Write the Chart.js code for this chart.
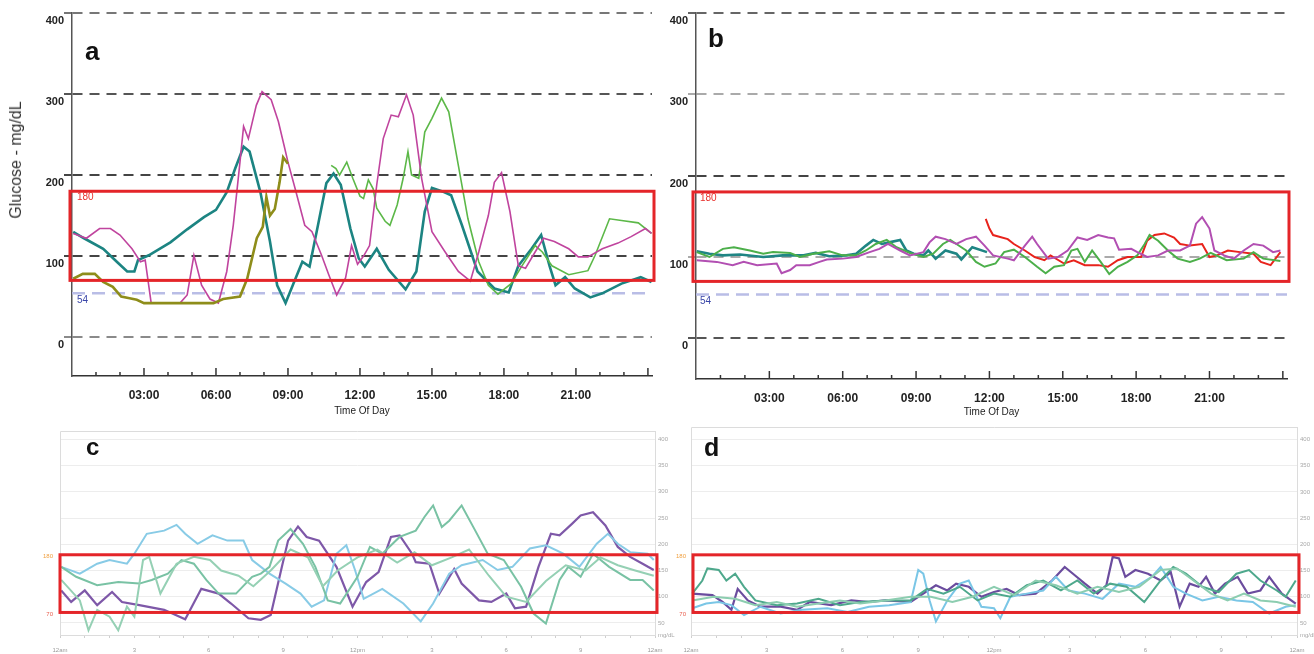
<!DOCTYPE html>
<html>
<head>
<meta charset="utf-8">
<title>CGM daily overlays a-d</title>
<script src="https://cdn.jsdelivr.net/npm/chart.js@4.4.1/dist/chart.umd.min.js"></script>
<style>
  body { margin: 0; background: #fff; width: 1314px; height: 654px; position: relative; overflow: hidden;
         font-family: 'Liberation Sans', Arial, sans-serif; }
  canvas { position: absolute; }
  .tag { position: absolute; font-weight: bold; color: #111; line-height: 1; }
  .ytitle { position: absolute; left: 16px; top: 160px; transform: translate(-50%, -50%) rotate(-90deg);
            font-size: 16px; color: #333; white-space: nowrap; }
</style>
</head>
<body>
<canvas id="chart-a" width="660" height="420" style="left:0;top:0"></canvas>
<canvas id="chart-b" width="654" height="420" style="left:660px;top:0"></canvas>
<canvas id="chart-c" width="690" height="234" style="left:0;top:420px"></canvas>
<canvas id="chart-d" width="644" height="234" style="left:670px;top:420px"></canvas>
<div class="ytitle">Glucose - mg/dL</div>
<div class="tag" style="left:85px;top:38px;font-size:26px">a</div>
<div class="tag" style="left:708px;top:25px;font-size:26px">b</div>
<div class="tag" style="left:86px;top:435px;font-size:24px">c</div>
<div class="tag" style="left:704px;top:435px;font-size:25px">d</div>

<script>
// ---- data: [hour of day, glucose mg/dL] ----
const aTeal = [[0.05,130],[0.5,122],[1.3,109],[1.9,92],[2.3,81],[2.6,81],[2.75,95],[3.2,101],[4.1,117],[4.8,133],[5.5,148],[6.0,157],[6.45,179],[6.8,208],[7.15,235],[7.4,229],[7.85,179],[8.25,118],[8.55,64],[8.9,42],[9.2,64],[9.6,93],[9.9,87],[10.25,138],[10.6,190],[10.9,202],[11.2,188],[11.6,134],[11.95,97],[12.2,87],[12.7,109],[13.2,83],[13.9,59],[14.35,81],[14.7,155],[15.0,184],[15.5,179],[15.8,175],[16.25,138],[16.9,81],[17.6,60],[18.2,55],[18.6,88],[19.15,109],[19.55,126],[19.9,88],[20.15,64],[20.55,74],[20.95,60],[21.6,49],[22.1,54],[22.9,66],[23.7,74],[24.15,68]];
const aMagenta = [[0.05,128],[0.6,122],[1.15,134],[1.6,134],[2.0,126],[2.5,109],[2.85,93],[3.05,95],[3.3,42],[4.5,42],[4.8,52],[5.08,101],[5.4,64],[5.75,47],[6.1,42],[6.45,81],[6.72,138],[7.0,216],[7.15,260],[7.35,245],[7.68,286],[7.92,303],[8.3,293],[8.6,266],[8.85,235],[9.0,216],[9.3,183],[9.7,138],[10.0,130],[10.4,101],[10.7,77],[11.03,52],[11.4,73],[11.65,113],[11.9,90],[12.15,100],[12.4,113],[12.7,188],[12.97,245],[13.3,274],[13.6,272],[13.94,299],[14.22,274],[14.57,196],[15.0,130],[15.55,105],[16.1,81],[16.6,69],[16.95,105],[17.35,150],[17.6,191],[17.9,203],[18.25,155],[18.6,88],[18.9,85],[19.3,105],[19.65,122],[20.1,118],[20.7,109],[21.1,99],[21.5,99],[22.1,109],[22.75,116],[23.3,124],[23.9,134],[24.15,128]];
const aOlive = [[0.05,72],[0.45,78],[0.95,78],[1.3,68],[1.7,62],[2.05,50],[2.4,48],[2.7,46],[3.0,42],[5.9,42],[6.3,47],[7.0,50],[7.3,72],[7.7,122],[7.95,136],[8.1,173],[8.25,150],[8.45,158],[8.65,191],[8.8,222],[9.0,214]];
const aGreen = [[10.8,212],[11.0,208],[11.15,200],[11.45,216],[11.7,196],[12.0,174],[12.15,171],[12.35,194],[12.55,183],[12.7,159],[13.05,143],[13.25,138],[13.55,163],[13.8,196],[14.0,229],[14.15,200],[14.45,196],[14.7,253],[15.0,270],[15.4,295],[15.7,278],[16.1,212],[16.5,146],[16.95,93],[17.35,64],[17.75,53],[18.3,66],[18.75,88],[19.3,113],[19.6,105],[20.0,88],[20.7,77],[21.5,82],[21.8,101],[22.4,146],[22.9,144],[23.6,141],[24.15,128]];

const bTeal = [[0.03,107],[0.55,104],[1.1,102],[1.8,103],[2.75,100],[3.55,102],[4.4,102],[4.9,105],[5.45,101],[6.15,102],[6.55,104],[6.95,114],[7.25,121],[7.6,116],[7.9,118],[8.35,121],[8.6,108],[8.9,104],[9.3,102],[9.5,108],[9.8,98],[10.2,108],[10.65,104],[10.85,97],[11.3,112],[11.9,106]];
const bMagenta = [[0.03,96],[0.85,94],[1.5,90],[1.95,94],[2.5,90],[3.3,92],[3.5,80],[3.85,84],[4.1,90],[4.65,90],[5.05,94],[5.35,97],[6.0,98],[6.55,100],[7.1,106],[7.5,110],[7.85,116],[8.35,108],[8.75,102],[9.3,106],[9.55,118],[9.8,125],[10.2,122],[10.65,116],[11.05,122],[11.45,125],[11.8,114],[12.15,102],[12.75,98],[13.0,96],[13.45,114],[13.75,125],[13.95,116],[14.4,98],[14.8,100],[15.2,108],[15.6,124],[16.0,121],[16.45,127],[16.85,124],[17.1,123],[17.3,109],[17.8,110],[18.05,106],[18.45,100],[18.9,102],[19.3,108],[19.8,108],[20.2,114],[20.45,141],[20.7,149],[21.0,135],[21.2,108],[21.6,102],[22.0,98],[22.4,108],[22.8,116],[23.2,114],[23.6,106],[23.9,108]];
const bGreen = [[0.03,106],[0.55,100],[1.1,110],[1.55,112],[2.2,108],[2.75,104],[3.15,106],[3.85,105],[4.25,100],[4.8,104],[5.45,107],[6.0,102],[6.55,102],[6.95,108],[7.35,116],[7.8,121],[8.2,112],[8.75,105],[9.3,100],[9.7,104],[10.1,116],[10.4,121],[10.65,116],[11.05,108],[11.45,94],[11.8,88],[12.25,92],[12.6,106],[13.0,109],[13.45,100],[13.95,88],[14.3,80],[14.65,88],[15.05,90],[15.35,108],[15.6,110],[15.9,94],[16.2,108],[16.55,94],[16.9,79],[17.25,88],[17.65,94],[18.05,102],[18.35,116],[18.55,127],[18.9,120],[19.3,108],[19.7,98],[20.2,94],[20.6,98],[21.05,105],[21.7,96],[22.4,98],[22.8,106],[23.2,98],[23.9,95]];
const bRed = [[11.85,147],[12.0,135],[12.15,127],[12.75,122],[13.0,116],[13.45,108],[13.85,100],[14.25,96],[14.5,102],[15.05,92],[15.45,96],[15.9,90],[16.45,90],[16.85,88],[17.25,96],[17.65,100],[18.2,100],[18.45,120],[18.75,127],[19.15,129],[19.55,124],[19.8,116],[20.2,114],[20.7,116],[21.0,100],[21.3,102],[21.75,108],[22.25,106],[22.8,104],[23.1,94],[23.5,90],[23.75,100],[23.9,106]];

const cPurple = [[0.05,112],[0.45,90],[1.0,112],[1.5,84],[2.1,109],[2.5,90],[3.2,84],[4.2,75],[5.05,57],[5.7,115],[6.4,106],[6.9,87],[7.6,59],[8.1,56],[8.5,65],[8.95,157],[9.2,207],[9.6,234],[9.95,214],[10.45,207],[11.15,157],[11.8,81],[12.35,128],[12.85,147],[13.35,214],[13.7,217],[14.2,182],[14.35,166],[14.9,163],[15.3,106],[15.9,153],[16.2,125],[16.9,93],[17.4,90],[18.0,106],[18.35,78],[18.8,81],[19.3,157],[19.8,220],[20.15,217],[20.65,239],[21.0,255],[21.5,261],[22.0,236],[22.5,195],[23.0,176],[23.5,163],[23.95,151]];
const cBlue = [[0.05,157],[0.8,144],[1.5,163],[2.0,170],[2.7,163],[3.0,182],[3.5,220],[4.2,226],[4.7,237],[5.05,220],[5.55,201],[6.15,217],[6.75,207],[7.4,207],[7.75,170],[8.45,144],[9.1,125],[9.7,106],[10.15,81],[10.65,93],[11.15,182],[11.55,198],[11.9,151],[12.25,96],[13.0,115],[13.85,87],[14.55,53],[15.05,87],[15.7,144],[16.2,160],[17.05,170],[17.65,151],[18.25,157],[18.95,192],[19.6,198],[20.3,182],[20.95,157],[21.65,201],[22.1,220],[22.5,201],[23.0,185],[23.7,182],[23.95,170]];
const cGreen = [[0.05,157],[0.65,138],[1.5,122],[2.35,128],[3.2,125],[3.7,132],[4.35,144],[4.9,170],[5.4,163],[5.9,132],[6.4,106],[7.1,106],[7.75,138],[8.1,144],[8.45,157],[8.8,207],[9.3,229],[9.8,201],[10.3,157],[10.8,93],[11.3,87],[12.0,138],[12.5,195],[13.0,182],[13.7,214],[14.35,226],[14.7,252],[15.05,274],[15.4,233],[15.7,245],[16.2,274],[16.75,226],[17.25,182],[17.9,170],[18.6,119],[19.1,68],[19.6,49],[20.15,132],[20.5,157],[21.0,138],[21.5,182],[22.15,157],[23.0,132],[23.5,132],[23.95,112]];
const cSea = [[0.05,132],[0.8,93],[1.15,36],[1.5,75],[2.0,62],[2.35,36],[2.7,81],[3.0,62],[3.35,170],[3.6,176],[4.05,106],[4.7,163],[5.4,176],[6.05,170],[6.5,150],[7.2,140],[7.8,120],[8.5,150],[9.3,190],[10.0,175],[10.6,120],[11.2,150],[12.0,175],[12.8,190],[13.6,165],[14.3,185],[15.0,160],[15.8,175],[16.5,190],[17.3,140],[18.0,100],[18.8,90],[19.6,130],[20.4,160],[21.2,150],[21.8,175],[22.5,160],[23.2,150],[23.95,140]];

const dPurple = [[0.05,106],[0.85,103],[1.25,90],[1.6,75],[1.85,115],[2.25,93],[2.75,81],[3.55,81],[4.2,75],[4.7,90],[5.55,84],[6.35,93],[7.05,90],[7.7,93],[8.7,90],[9.2,106],[9.7,122],[10.15,112],[10.5,125],[11.0,119],[11.5,100],[12.0,109],[12.5,115],[13.0,103],[13.65,106],[14.3,131],[14.8,157],[15.2,141],[15.6,125],[16.1,106],[16.45,122],[16.7,176],[16.95,173],[17.2,138],[17.6,151],[18.1,144],[18.6,131],[19.0,147],[19.35,81],[19.75,125],[20.1,119],[20.4,138],[20.75,106],[21.15,125],[21.65,138],[22.05,106],[22.55,112],[22.9,138],[23.4,106],[23.95,87]];
const dTeal = [[0.05,106],[0.45,131],[0.65,154],[1.1,151],[1.4,131],[1.75,144],[2.1,119],[2.55,93],[3.4,84],[4.2,87],[5.05,96],[5.9,84],[6.7,90],[7.7,93],[8.7,93],[9.35,115],[10.0,106],[10.65,119],[11.35,93],[12.0,106],[12.65,100],[13.3,122],[13.95,131],[14.65,112],[15.3,131],[15.95,106],[16.6,125],[17.25,119],[17.95,90],[18.6,131],[19.1,157],[19.6,144],[20.25,119],[20.9,109],[21.6,144],[22.1,151],[22.55,131],[23.2,112],[23.55,100],[23.95,131]];
const dBlue = [[0.05,78],[0.6,87],[1.1,90],[1.6,84],[2.1,65],[2.75,81],[3.55,68],[4.4,75],[5.4,78],[6.2,71],[7.05,81],[7.85,84],[8.7,90],[9.0,151],[9.2,144],[9.45,93],[9.7,53],[10.15,93],[10.65,125],[11.0,131],[11.5,81],[12.0,78],[12.25,59],[12.65,100],[13.3,106],[13.95,112],[14.45,138],[14.95,112],[15.6,106],[16.3,96],[16.95,125],[17.6,119],[18.25,138],[18.6,157],[19.1,119],[19.6,106],[20.25,93],[20.9,100],[21.6,93],[22.25,90],[22.9,68],[23.55,81],[23.95,84]];
const dGreen = [[0.05,93],[0.9,100],[1.75,96],[2.55,84],[3.4,90],[4.2,81],[5.05,87],[5.9,93],[6.7,87],[7.7,93],[8.7,100],[9.5,100],[10.35,90],[11.15,100],[12.0,119],[12.8,103],[13.65,131],[14.45,122],[15.3,106],[16.1,119],[16.95,109],[17.75,119],[18.6,151],[19.25,154],[19.9,131],[20.6,106],[21.25,93],[21.9,106],[22.55,93],[23.2,90],[23.95,81]];

// ---- axes ----
const abHourTicks = [3, 6, 9, 12, 15, 18, 21];
const abGlucoseTicks = [0, 100, 200, 300, 400];
const cdHourTicks = [0, 3, 6, 9, 12, 15, 18, 21, 24];
const cdHourLabels = ['12am', '3', '6', '9', '12pm', '3', '6', '9', '12am'];
const cdGlucoseTicks = [50, 100, 150, 200, 250, 300, 350, 400];

// target range box, hypo line and their labels
const marks = {
  id: 'marks',
  beforeDatasetsDraw(chart, args, opt) {
    const { ctx, chartArea: area, scales: { x, y } } = chart;
    ctx.save();
    if (opt.frame) {
      ctx.strokeStyle = opt.frame;
      ctx.lineWidth = 1;
      ctx.beginPath();
      ctx.moveTo(area.left + 0.5, area.bottom);
      ctx.lineTo(area.left + 0.5, area.top + 0.5);
      ctx.lineTo(area.right, area.top + 0.5);
      ctx.stroke();
    }
    if (opt.hypo) {
      const py = y.getPixelForValue(opt.hypo);
      ctx.setLineDash([13, 7]);
      ctx.lineWidth = 2.5;
      ctx.strokeStyle = '#b9bde6';
      ctx.beginPath();
      ctx.moveTo(area.left, py);
      ctx.lineTo(area.right, py);
      ctx.stroke();
      ctx.setLineDash([]);
    }
    if (opt.hourTicks) {
      ctx.strokeStyle = '#333';
      ctx.lineWidth = 1.5;
      for (let h = 1; h <= 24; h++) {
        const px = x.getPixelForValue(h);
        ctx.beginPath();
        ctx.moveTo(px, area.bottom);
        ctx.lineTo(px, area.bottom - (h % 3 ? 4 : 8));
        ctx.stroke();
      }
    }
    ctx.restore();
  },
  afterDatasetsDraw(chart, args, opt) {
    if (!opt.box) return;
    const { ctx, chartArea: area, scales: { y } } = chart;
    const b = opt.box;
    const top = y.getPixelForValue(b.high);
    const bottom = y.getPixelForValue(b.low);
    ctx.save();
    ctx.strokeStyle = '#e42529';
    ctx.lineWidth = 3;
    ctx.strokeRect(area.left + b.padL, top, area.width - b.padL + b.padR, bottom - top);
    ctx.textBaseline = 'middle';
    (opt.labels || []).forEach(l => {
      ctx.font = l.font;
      ctx.fillStyle = l.color;
      ctx.textAlign = l.dx < 0 ? 'right' : 'left';
      ctx.fillText(String(l.value), area.left + l.dx, y.getPixelForValue(l.value) + l.dy);
    });
    ctx.restore();
  }
};
Chart.register(marks);

const lines = list => list.map(s => ({
  data: s[0].map(p => ({ x: p[0], y: p[1] })),
  borderColor: s[1],
  borderWidth: s[2],
  pointRadius: 0,
  tension: 0,
  fill: false,
}));

const smallFont = "10px 'Liberation Sans', sans-serif";

function topPanel(id, series, o) {
  new Chart(document.getElementById(id), {
    type: 'line',
    data: { datasets: lines(series) },
    options: {
      responsive: false,
      animation: false,
      events: [],
      layout: { padding: { left: 0, top: 13, right: o.padRight, bottom: 0 } },
      plugins: {
        legend: { display: false },
        tooltip: { enabled: false },
        marks: {
          hypo: 54,
          hourTicks: true,
          box: { low: 70, high: 180, padL: o.boxL, padR: o.boxR },
          labels: [
            { value: 180, dx: o.labelDx, dy: 6, color: '#e8302c', font: smallFont },
            { value: 54, dx: o.labelDx, dy: 7, color: '#3a46a8', font: smallFont },
          ],
        },
      },
      scales: {
        x: {
          type: 'linear',
          min: 0,
          max: 24.17,
          afterFit: s => { s.height = o.xHeight; },
          afterBuildTicks: s => { s.ticks = abHourTicks.map(v => ({ value: v })); },
          grid: { display: false },
          border: { display: true, color: '#333', width: 1.5 },
          ticks: {
            color: '#222',
            padding: 4,
            font: { family: "'Liberation Sans', sans-serif", size: 12, weight: 'bold' },
            maxRotation: 0,
            autoSkip: false,
            callback: v => String(v).padStart(2, '0') + ':00',
          },
          title: {
            display: true,
            text: 'Time Of Day',
            color: '#222',
            padding: { top: 0, bottom: o.titlePad },
            font: { family: "'Liberation Sans', sans-serif", size: 10 },
          },
        },
        y: {
          min: o.yMin,
          max: 400,
          afterFit: s => { s.width = o.yWidth; },
          afterBuildTicks: s => { s.ticks = abGlucoseTicks.map(v => ({ value: v })); },
          grid: {
            color: c => o.gridColors[abGlucoseTicks.indexOf(c.tick.value)],
            tickColor: c => o.gridColors[abGlucoseTicks.indexOf(c.tick.value)],
            lineWidth: 2,
            tickWidth: 2,
            tickLength: 8,
            tickBorderDash: [10, 7],
          },
          border: { display: true, color: '#555', width: 1.5, dash: [10, 7] },
          ticks: {
            color: '#222',
            padding: 0,
            labelOffset: 8,
            font: { family: "'Liberation Sans', sans-serif", size: 11, weight: 'bold' },
          },
        },
      },
    },
  });
}

function bottomPanel(id, series, o) {
  new Chart(document.getElementById(id), {
    type: 'line',
    data: { datasets: lines(series) },
    options: {
      responsive: false,
      animation: false,
      events: [],
      layout: { padding: { left: o.padLeft, top: o.padTop, right: 0, bottom: 0 } },
      plugins: {
        legend: { display: false },
        tooltip: { enabled: false },
        marks: {
          frame: '#dcdcdc',
          box: { low: 70, high: 180, padL: o.boxL, padR: 2 },
          labels: [
            { value: 180, dx: o.labelDx, dy: 2, color: '#f0a040', font: "6px 'Liberation Sans', sans-serif" },
            { value: 70, dx: o.labelDx, dy: 1.5, color: '#e86050', font: "6px 'Liberation Sans', sans-serif" },
          ],
        },
      },
      scales: {
        x: {
          type: 'linear',
          min: 0,
          max: 24,
          afterFit: s => { s.height = 19; },
          afterBuildTicks: s => {
            const hours = [];
            for (let h = 0; h <= 24; h++) hours.push({ value: h });
            s.ticks = hours;
          },
          grid: { drawOnChartArea: false, drawTicks: true, tickLength: 3, color: '#cfcfcf' },
          border: { display: true, color: '#dcdcdc', width: 1 },
          ticks: {
            color: '#9a9a9a',
            padding: 9,
            font: { size: 6 },
            maxRotation: 0,
            autoSkip: false,
            callback: v => {
              const i = cdHourTicks.indexOf(v);
              return i < 0 ? '' : cdHourLabels[i];
            },
          },
        },
        y: {
          position: 'right',
          min: 27,
          max: o.yMax,
          afterFit: s => { s.width = o.yWidth; },
          afterBuildTicks: s => { s.ticks = [{ value: 27 }].concat(cdGlucoseTicks.map(v => ({ value: v }))); },
          grid: { color: c => (c.tick.value === 27 ? 'rgba(0,0,0,0)' : '#ededed'), lineWidth: 1, drawTicks: false },
          border: { display: true, color: '#dcdcdc', width: 1 },
          ticks: {
            color: '#a8a8a8',
            padding: 3,
            font: { size: 6 },
            callback: v => (v === 27 ? 'mg/dL' : v),
          },
        },
      },
    },
  });
}

topPanel('chart-a', [
  [aOlive, '#8e8d1a', 2.6],
  [aMagenta, '#c0449e', 1.6],
  [aGreen, '#5cb848', 1.6],
  [aTeal, '#1c8482', 2.6],
], { padRight: 8, xHeight: 44, titlePad: 3, yMin: -48, yWidth: 72, boxL: -2, boxR: 2, labelDx: 5,
     gridColors: ['#8a8a8a', '#444', '#444', '#555', '#777'] });

topPanel('chart-b', [
  [bMagenta, '#b24fb2', 2],
  [bGreen, '#4caf4a', 2],
  [bTeal, '#1f8584', 2.6],
  [bRed, '#e8231c', 2],
], { padRight: 27, xHeight: 41, titlePad: 2, yMin: -50, yWidth: 36, boxL: -3, boxR: 2, labelDx: 4,
     gridColors: ['#555', '#aaa', '#444', '#aaa', '#666'] });

bottomPanel('chart-c', [
  [cSea, '#95d0b4', 2],
  [cGreen, '#79c2a4', 2],
  [cBlue, '#88cbe6', 2],
  [cPurple, '#7e58a8', 2.2],
], { padLeft: 60, padTop: 11, yMax: 416, yWidth: 35, boxL: 0, labelDx: -7 });

bottomPanel('chart-d', [
  [dGreen, '#8ccdb0', 2],
  [dTeal, '#4ea88c', 2],
  [dBlue, '#7ac6e6', 2],
  [dPurple, '#6b4c9e', 2.2],
], { padLeft: 21, padTop: 7, yMax: 424, yWidth: 17, boxL: 2, labelDx: -5 });
</script>
</body>
</html>
